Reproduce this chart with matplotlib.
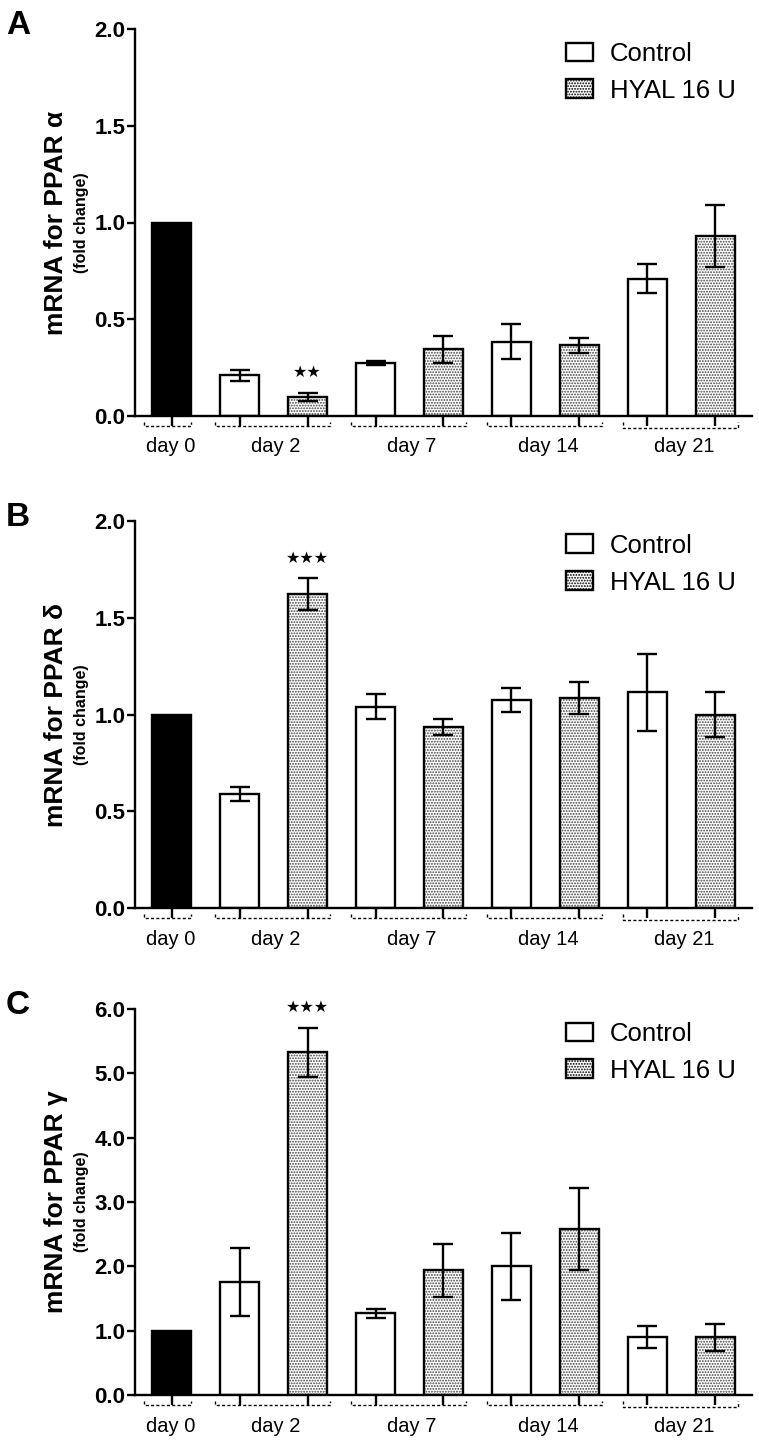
import numpy as np
import matplotlib
matplotlib.use("Agg")
import matplotlib.pyplot as plt
from matplotlib.patches import Patch
from matplotlib.transforms import blended_transform_factory

plt.rcParams['font.family'] = ['Liberation Sans', 'DejaVu Sans']
plt.rcParams['hatch.linewidth'] = 0.9

# groups along the x axis
groups = ['day 0', 'day 2', 'day 7', 'day 14', 'day 21']
legend_labels = ['Control', 'HYAL 16 U']

# panel A - PPAR alpha (day 0 first, then days 2..21)
a_ctrl = [1.00, 0.21, 0.275, 0.385, 0.71]
a_ctrl_err = [0.0, 0.03, 0.01, 0.09, 0.076]
a_hyal = [0.10, 0.345, 0.365, 0.93]
a_hyal_err = [0.02, 0.07, 0.04, 0.16]

# panel B - PPAR delta
b_ctrl = [1.00, 0.59, 1.04, 1.075, 1.115]
b_ctrl_err = [0.0, 0.037, 0.065, 0.062, 0.198]
b_hyal = [1.62, 0.935, 1.085, 1.0]
b_hyal_err = [0.083, 0.042, 0.084, 0.118]

# panel C - PPAR gamma
c_ctrl = [1.00, 1.76, 1.27, 2.0, 0.90]
c_ctrl_err = [0.0, 0.53, 0.07, 0.52, 0.17]
c_hyal = [5.33, 1.94, 2.58, 0.90]
c_hyal_err = [0.38, 0.41, 0.64, 0.21]

panels = [
    ('A', 'mRNA for PPAR \u03b1', a_ctrl, a_ctrl_err, a_hyal, a_hyal_err, 2.0, 0.5, {2: '\u2605\u2605'}),
    ('B', 'mRNA for PPAR \u03b4', b_ctrl, b_ctrl_err, b_hyal, b_hyal_err, 2.0, 0.5, {2: '\u2605\u2605\u2605'}),
    ('C', 'mRNA for PPAR \u03b3', c_ctrl, c_ctrl_err, c_hyal, c_hyal_err, 6.0, 1.0, {2: '\u2605\u2605\u2605'}),
]

W, H = 759, 1440
fig = plt.figure(figsize=(W / 100, H / 100), dpi=100)

# axes boxes in pixels: (top, bottom)
boxes = [(29, 416), (520.7, 908.3), (1009, 1395)]
ax_left, ax_right = 135, 752

lw = 1.7
bar_w = 0.57
hatch_col = '#444444'

for (letter, ylab, ctrl, ctrl_err, hyal, hyal_err, ymax, ystep, stars), (top, bot) in zip(panels, boxes):
    ax = fig.add_axes([ax_left / W, 1 - bot / H, (ax_right - ax_left) / W, (bot - top) / H])

    # positions: day 0 at 0, control at 1,3,5,7, hyal at 2,4,6,8
    x_ctrl = np.array([0, 1, 3, 5, 7])
    x_hyal = np.array([2, 4, 6, 8])

    colors = ['black'] + ['white'] * 4
    ax.bar(x_ctrl, ctrl, width=bar_w, color=colors, edgecolor='black', linewidth=lw, zorder=2)
    ax.errorbar(x_ctrl[1:], ctrl[1:], yerr=ctrl_err[1:], fmt='none', ecolor='black',
                elinewidth=lw, capsize=7, capthick=lw, zorder=3)

    ax.bar(x_hyal, hyal, width=bar_w, color='white', edgecolor=hatch_col, hatch='......',
           linewidth=0, zorder=2)
    ax.bar(x_hyal, hyal, width=bar_w, fill=False, edgecolor='black', linewidth=lw, zorder=2.5)
    ax.errorbar(x_hyal, hyal, yerr=hyal_err, fmt='none', ecolor='black',
                elinewidth=lw, capsize=7, capthick=lw, zorder=3)

    # significance marks
    h_ax = (bot - top)
    for pos, s in stars.items():
        i = list(x_hyal).index(pos)
        yv = hyal[i] + hyal_err[i] + ymax * 20 / h_ax
        ax.text(pos, yv, s, ha='center', va='center', fontsize=11.5, family='DejaVu Sans',
                clip_on=False)

    ax.set_xlim(-0.537, 8.537)
    ax.set_ylim(0, ymax)
    yt = np.arange(0, ymax + ystep / 2, ystep)
    ax.set_yticks(yt)
    ax.set_yticklabels(['%.1f' % v for v in yt], fontsize=16, fontweight='bold')
    ax.set_xticks(np.arange(9))
    ax.set_xticklabels([])

    for sp in ['top', 'right']:
        ax.spines[sp].set_visible(False)
    for sp in ['left', 'bottom']:
        ax.spines[sp].set_linewidth(lw)
    ax.tick_params(axis='y', direction='out', length=6, width=lw, pad=1)
    ax.tick_params(axis='x', direction='out', length=7, width=lw)

    # group brackets under the axis
    tr = blended_transform_factory(ax.transData, ax.transAxes)
    yb = -10 / h_ax
    ycap = -6 / h_ax
    spans = [(0 - 0.4, 0 + 0.28)] + [(c - 0.36, c + 1 + 0.33) for c in [1, 3, 5, 7]]
    for gi, (g, (xl, xr)) in enumerate(zip(groups, spans)):
        yy = yb - (2 / h_ax if gi == 4 else 0)
        ax.plot([xl, xl, xr, xr], [ycap, yy, yy, ycap], transform=tr, color='black',
                lw=1.0, linestyle=(0, (2.2, 1.6)), clip_on=False)
        ax.text((xl + xr) / 2 + 0.05, -31 / h_ax, g, transform=tr, ha='center', va='center',
                fontsize=14.5)

    # y labels
    ax.text((56 - ax_left) / (ax_right - ax_left), 0.5, ylab, transform=ax.transAxes,
            rotation=90, ha='center', va='center', fontsize=19, fontweight='bold')
    ax.text((81.5 - ax_left) / (ax_right - ax_left), 0.5, '(fold change)', transform=ax.transAxes,
            rotation=90, ha='center', va='center', fontsize=11.5, fontweight='bold')

    # panel letter
    fig.text(6 / W, 1 - (top - 19) / H, letter, ha='left', va='top', fontsize=24, fontweight='bold')

    handles = [Patch(facecolor='white', edgecolor='black', linewidth=lw),
               Patch(facecolor='white', edgecolor='black', hatch='......', linewidth=lw)]
    ax.legend(handles, legend_labels, loc='upper left',
              bbox_to_anchor=(566 / W, 1 - (top + 13) / H), bbox_transform=fig.transFigure,
              frameon=False, fontsize=18.5, handlelength=1.05, handleheight=0.75,
              handletextpad=0.65, labelspacing=0.5, borderpad=0, borderaxespad=0)

fig.savefig('out.png', dpi=100)
